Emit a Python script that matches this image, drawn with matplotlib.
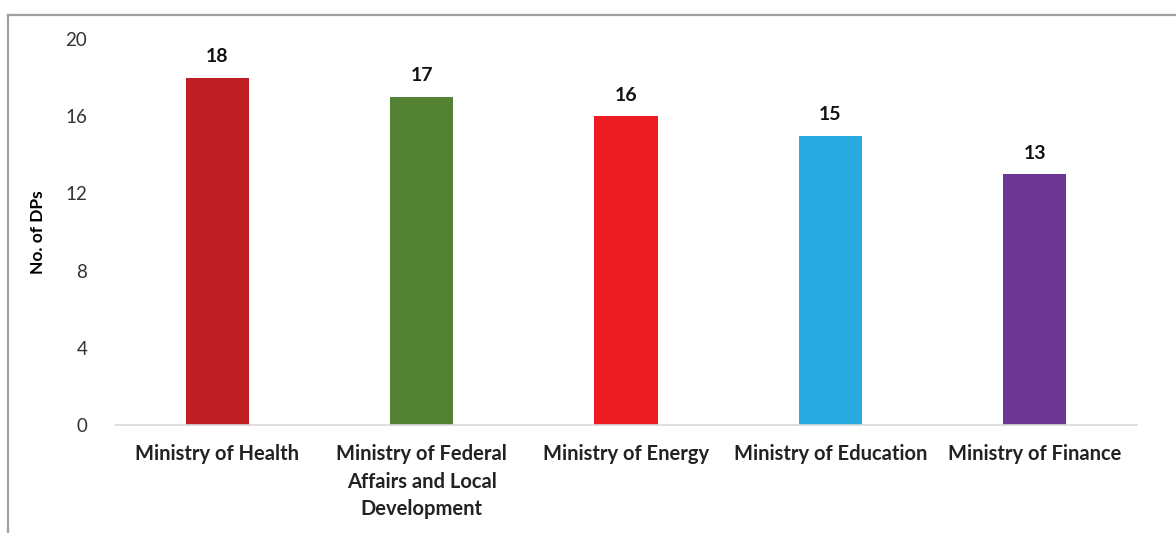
import matplotlib.pyplot as plt
from matplotlib.lines import Line2D

plt.rcParams['font.family'] = ['Lato', 'DejaVu Sans']

ministries = ['Ministry of Health',
              'Ministry of Federal\nAffairs and Local\nDevelopment',
              'Ministry of Energy',
              'Ministry of Education',
              'Ministry of Finance']
dps = [18, 17, 16, 15, 13]
colors = ['#C01F25', '#548235', '#ED1C24', '#29ABE2', '#6C3794']
yticks = [0, 4, 8, 12, 16, 20]

fig = plt.figure(figsize=(11.76, 5.33), dpi=100)
ax = fig.add_axes([0.0978, 0.2026, 0.869, 0.7242])

x = range(len(ministries))
bars = ax.bar(x, dps, width=0.31, color=colors)
for b, v in zip(bars, dps):
    ax.annotate(str(v), (b.get_x() + b.get_width() / 2, v), xytext=(0, 9),
                textcoords='offset points', ha='center', va='bottom',
                fontsize=14, fontweight='bold', color='#111111')

ax.set_xlim(-0.5, len(ministries) - 0.5)
ax.set_ylim(0, 20)
ax.set_yticks(yticks)
ax.set_xticks(list(x))
ax.set_xticklabels(ministries, fontsize=14.5, fontweight='bold', color='#222222',
                   linespacing=1.45)
ax.tick_params(axis='y', length=0, pad=20, labelsize=13.5, labelcolor='#333333')
ax.tick_params(axis='x', length=0, pad=14)
for s in ['top', 'right', 'left']:
    ax.spines[s].set_visible(False)
ax.spines['bottom'].set_color('#D9D9D9')
ax.spines['bottom'].set_linewidth(1.2)
ax.set_ylabel('No. of DPs', fontsize=12.5, fontweight='bold', labelpad=14)

# outer border (cropped on right/bottom)
fig.add_artist(Line2D([0.0068, 1.0], [0.9719, 0.9719], color='#A0A0A0', lw=1.6,
                      transform=fig.transFigure))
fig.add_artist(Line2D([0.0068, 0.0068], [0.0, 0.9719], color='#A0A0A0', lw=1.6,
                      transform=fig.transFigure))

fig.savefig('out.png', dpi=100)
